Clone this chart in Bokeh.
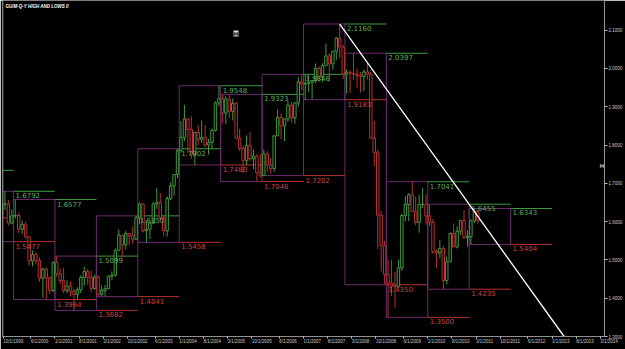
import numpy as np
from bokeh.plotting import figure
from bokeh.models import (ColumnDataSource, FixedTicker, Range1d, Label, Span,
                          NumeralTickFormatter)
from bokeh.embed import file_html
from bokeh.resources import INLINE
from bokeh.core.properties import value

# ---------------- data ----------------
months = [
    "1999-09", "1999-10", "1999-11", "1999-12",
    "2000-01", "2000-02", "2000-03", "2000-04", "2000-05", "2000-06", "2000-07", "2000-08", "2000-09", "2000-10", "2000-11", "2000-12",
    "2001-01", "2001-02", "2001-03", "2001-04", "2001-05", "2001-06", "2001-07", "2001-08", "2001-09", "2001-10", "2001-11", "2001-12",
    "2002-01", "2002-02", "2002-03", "2002-04", "2002-05", "2002-06", "2002-07", "2002-08", "2002-09", "2002-10", "2002-11", "2002-12",
    "2003-01", "2003-02", "2003-03", "2003-04", "2003-05", "2003-06", "2003-07", "2003-08", "2003-09", "2003-10", "2003-11", "2003-12",
    "2004-01", "2004-02", "2004-03", "2004-04", "2004-05", "2004-06", "2004-07", "2004-08", "2004-09", "2004-10", "2004-11", "2004-12",
    "2005-01", "2005-02", "2005-03", "2005-04", "2005-05", "2005-06", "2005-07", "2005-08", "2005-09", "2005-10", "2005-11", "2005-12",
    "2006-01", "2006-02", "2006-03", "2006-04", "2006-05", "2006-06", "2006-07", "2006-08", "2006-09", "2006-10", "2006-11", "2006-12",
    "2007-01", "2007-02", "2007-03", "2007-04", "2007-05", "2007-06", "2007-07", "2007-08", "2007-09", "2007-10", "2007-11", "2007-12",
    "2008-01", "2008-02", "2008-03", "2008-04", "2008-05", "2008-06", "2008-07", "2008-08", "2008-09", "2008-10", "2008-11", "2008-12",
    "2009-01", "2009-02", "2009-03", "2009-04", "2009-05", "2009-06", "2009-07", "2009-08", "2009-09", "2009-10", "2009-11", "2009-12",
    "2010-01", "2010-02", "2010-03", "2010-04", "2010-05", "2010-06", "2010-07", "2010-08", "2010-09", "2010-10", "2010-11", "2010-12",
    "2011-01", "2011-02", "2011-03",
]
opens = [
    1.6120, 1.6460, 1.6460, 1.5960,
    1.6150, 1.6160, 1.5800, 1.5930, 1.5600, 1.4970, 1.5140, 1.4980, 1.4520, 1.4760, 1.4540, 1.4200,
    1.4930, 1.4640, 1.4460, 1.4200, 1.4320, 1.4180, 1.4100, 1.4220, 1.4540, 1.4700, 1.4550, 1.4250,
    1.4550, 1.4100, 1.4200, 1.4250, 1.4570, 1.4600, 1.5250, 1.5650, 1.5390, 1.5690, 1.5630, 1.5540,
    1.6100, 1.6460, 1.5760, 1.5800, 1.5960, 1.6460, 1.6500, 1.6100, 1.5760, 1.6600, 1.6930, 1.7230,
    1.7860, 1.8200, 1.8680, 1.8410, 1.7750, 1.8330, 1.8150, 1.8200, 1.8000, 1.8070, 1.8380, 1.9100,
    1.9210, 1.8830, 1.9200, 1.8880, 1.9090, 1.8180, 1.7910, 1.7600, 1.7990, 1.7640, 1.7710, 1.7270,
    1.7200, 1.7770, 1.7480, 1.7380, 1.8240, 1.8720, 1.8500, 1.8680, 1.9040, 1.8710, 1.9100, 1.9650,
    1.9590, 1.9610, 1.9640, 1.9680, 2.0000, 1.9790, 2.0070, 2.0330, 2.0120, 2.0450, 2.0790, 2.0560,
    1.9850, 1.9900, 1.9870, 1.9850, 1.9810, 1.9790, 1.9910, 1.9850, 1.8180, 1.7810, 1.6170, 1.5370,
    1.4620, 1.4400, 1.4320, 1.4300, 1.4790, 1.6160, 1.6450, 1.6700, 1.6260, 1.5980, 1.6450, 1.6450,
    1.6150, 1.5980, 1.5220, 1.5180, 1.5300, 1.4460, 1.4950, 1.5690, 1.5340, 1.5750, 1.6030, 1.5580,
    1.5610, 1.6020, 1.6260,
]
highs = [
    1.6500, 1.6792, 1.6560, 1.6320,
    1.6577, 1.6230, 1.6030, 1.6000, 1.5620, 1.5250, 1.5200, 1.5070, 1.4800, 1.4800, 1.4560, 1.4960,
    1.5099, 1.4770, 1.4790, 1.4470, 1.4440, 1.4240, 1.4290, 1.4600, 1.4830, 1.4770, 1.4720, 1.4620,
    1.4590, 1.4330, 1.4350, 1.4600, 1.4700, 1.5300, 1.5800, 1.5650, 1.5750, 1.5690, 1.5870, 1.6150,
    1.6500, 1.6480, 1.6030, 1.6000, 1.6520, 1.6880, 1.6750, 1.6180, 1.6660, 1.7030, 1.7230, 1.7902,
    1.8620, 1.9050, 1.8700, 1.8750, 1.8350, 1.8520, 1.8640, 1.8520, 1.8160, 1.8430, 1.9140, 1.9548,
    1.9323, 1.9270, 1.9300, 1.9220, 1.9120, 1.8420, 1.7970, 1.8250, 1.8340, 1.7880, 1.7760, 1.7770,
    1.7880, 1.7850, 1.7660, 1.8260, 1.8930, 1.8830, 1.8700, 1.9150, 1.9130, 1.9120, 1.9780, 1.9846,
    1.9840, 1.9840, 1.9700, 2.0130, 2.0050, 2.0140, 2.0650, 2.0400, 2.0450, 2.0820, 2.1160, 2.0620,
    1.9980, 1.9950, 2.0397, 1.9990, 1.9910, 1.9980, 2.0160, 1.9920, 1.8630, 1.7870, 1.6280, 1.5500,
    1.5010, 1.5010, 1.4690, 1.5010, 1.6200, 1.6660, 1.6740, 1.7041, 1.6660, 1.6700, 1.6880, 1.6700,
    1.6455, 1.6070, 1.5280, 1.5520, 1.5370, 1.5090, 1.5720, 1.5950, 1.5880, 1.6040, 1.6300, 1.5770,
    1.6060, 1.6343, 1.6300,
]
lows = [
    1.5985, 1.6300, 1.5900, 1.5930,
    1.6080, 1.5700, 1.5680, 1.5560, 1.4850, 1.4830, 1.4880, 1.4430, 1.4010, 1.3964, 1.4110, 1.4160,
    1.4560, 1.4380, 1.4130, 1.4130, 1.4050, 1.3682, 1.3950, 1.4130, 1.4330, 1.4350, 1.4150, 1.4220,
    1.4041, 1.4060, 1.4060, 1.4240, 1.4470, 1.4560, 1.5250, 1.5060, 1.5270, 1.5380, 1.5420, 1.5530,
    1.5930, 1.5720, 1.5458, 1.5550, 1.5930, 1.6330, 1.6040, 1.5620, 1.5610, 1.6560, 1.6680, 1.7140,
    1.7800, 1.8100, 1.7800, 1.7640, 1.7480, 1.8000, 1.8060, 1.7940, 1.7750, 1.7900, 1.8350, 1.9010,
    1.8560, 1.8550, 1.8700, 1.8640, 1.8150, 1.7850, 1.7270, 1.7470, 1.7580, 1.7370, 1.7046, 1.7150,
    1.7202, 1.7300, 1.7250, 1.7300, 1.8230, 1.8150, 1.8100, 1.8600, 1.8590, 1.8550, 1.9000, 1.9430,
    1.9183, 1.9390, 1.9190, 1.9610, 1.9650, 1.9640, 2.0060, 1.9660, 1.9960, 2.0220, 2.0270, 1.9720,
    1.9340, 1.9360, 1.9700, 1.9500, 1.9370, 1.9410, 1.9710, 1.8170, 1.7450, 1.5280, 1.4700, 1.4350,
    1.3500, 1.4060, 1.3740, 1.4280, 1.4710, 1.6010, 1.6010, 1.6250, 1.5900, 1.5710, 1.6350, 1.5920,
    1.5870, 1.5150, 1.4780, 1.5040, 1.4235, 1.4360, 1.4940, 1.5330, 1.5300, 1.5650, 1.5550, 1.5350,
    1.5404, 1.5960, 1.5940,
]
closes = [
    1.6460, 1.6460, 1.5960, 1.6150,
    1.6160, 1.5800, 1.5930, 1.5600, 1.4970, 1.5140, 1.4980, 1.4520, 1.4760, 1.4540, 1.4200, 1.4930,
    1.4640, 1.4460, 1.4200, 1.4320, 1.4180, 1.4100, 1.4220, 1.4540, 1.4700, 1.4550, 1.4250, 1.4550,
    1.4100, 1.4200, 1.4250, 1.4570, 1.4600, 1.5250, 1.5650, 1.5390, 1.5690, 1.5630, 1.5540, 1.6100,
    1.6460, 1.5760, 1.5800, 1.5960, 1.6460, 1.6500, 1.6100, 1.5760, 1.6600, 1.6930, 1.7230, 1.7860,
    1.8200, 1.8680, 1.8410, 1.7750, 1.8330, 1.8150, 1.8200, 1.8000, 1.8070, 1.8380, 1.9100, 1.9210,
    1.8830, 1.9200, 1.8880, 1.9090, 1.8180, 1.7910, 1.7600, 1.7990, 1.7640, 1.7710, 1.7270, 1.7200,
    1.7770, 1.7480, 1.7380, 1.8240, 1.8720, 1.8500, 1.8680, 1.9040, 1.8710, 1.9100, 1.9650, 1.9590,
    1.9610, 1.9640, 1.9680, 2.0000, 1.9790, 2.0070, 2.0330, 2.0120, 2.0450, 2.0790, 2.0560, 1.9850,
    1.9900, 1.9870, 1.9850, 1.9810, 1.9790, 1.9910, 1.9850, 1.8180, 1.7810, 1.6170, 1.5370, 1.4620,
    1.4400, 1.4320, 1.4300, 1.4790, 1.6160, 1.6450, 1.6700, 1.6260, 1.5980, 1.6450, 1.6450, 1.6150,
    1.5980, 1.5220, 1.5180, 1.5300, 1.4460, 1.4950, 1.5690, 1.5340, 1.5750, 1.6030, 1.5580, 1.5610,
    1.6020, 1.6260, 1.6020,
]

years = [1998, 1999, 2000, 2001, 2002, 2003, 2004, 2005, 2006, 2007, 2008, 2009, 2010, 2011]
year_high = [1.7340, 1.6792, 1.6577, 1.5099, 1.6150, 1.7902, 1.9548, 1.9323, 1.9846, 2.1160, 2.0397, 1.7041, 1.6455, 1.6343]
year_low = [1.6100, 1.5477, 1.3964, 1.3682, 1.4041, 1.5458, 1.7480, 1.7046, 1.7202, 1.9183, 1.4350, 1.3500, 1.4235, 1.5404]

trend_months = ["2007-11", "2013-04"]
trend_prices = [2.1160, 1.3000]

x_tick_months = ["1999-10", "2000-06", "2001-01", "2001-08", "2002-03", "2002-10", "2003-06",
                 "2004-01", "2004-08", "2005-03", "2005-10", "2006-06", "2007-01", "2007-08",
                 "2008-03", "2008-10", "2009-06", "2010-01", "2010-08", "2011-03", "2011-10",
                 "2012-06", "2013-01", "2013-08", "2014-03"]
x_tick_labels = ["10/1/1999", "6/1/2000", "1/1/2001", "8/1/2001", "3/1/2002", "10/1/2002", "6/1/2003",
                 "1/1/2004", "8/1/2004", "3/1/2005", "10/1/2005", "6/1/2006", "1/1/2007", "8/1/2007",
                 "3/1/2008", "10/1/2008", "6/1/2009", "1/1/2010", "8/1/2010", "3/1/2011", "10/1/2011",
                 "6/1/2012", "1/1/2013", "8/1/2013", "3/1/2014"]
y_ticks = [1.3, 1.4, 1.5, 1.6, 1.7, 1.8, 1.9, 2.0, 2.1]

title_text = "GU/M-Q-Y HIGH AND LOWS 0"

# ---------------- helpers ----------------
def midx(s):
    yy, mm = s.split("-")
    return (int(yy) - 2000) * 12 + int(mm) - 1

GREEN = "#3f9a3f"
RED = "#b83232"
PURPLE = "#6c2c6c"
GREEN_TXT = "#5cae5c"
RED_TXT = "#cc4444"

X0, X1 = -3.2, 171.2
Y0, Y1 = 1.3, 2.1774

x = [midx(m) + 0.5 for m in months]
o = np.array(opens); c = np.array(closes)
cols = [GREEN if cc >= oo else RED for oo, cc in zip(opens, closes)]
candles = ColumnDataSource(dict(
    x=x, high=highs, low=lows, top=np.maximum(o, c), bottom=np.minimum(o, c), color=cols))

yrs = ColumnDataSource(dict(
    left=[(y - 2000) * 12 for y in years],
    right=[(y - 2000 + 1) * 12 for y in years],
    nxt_end=[(y - 2000 + 2) * 12 for y in years],
    high=year_high, low=year_low,
))
# labels only where the label start is inside the view
lab_idx = [i for i, y in enumerate(years) if (y - 2000 + 1) * 12 >= X0]
labs = ColumnDataSource(dict(
    x=[(years[i] - 2000 + 1) * 12 for i in lab_idx],
    high=[year_high[i] for i in lab_idx],
    low=[year_low[i] for i in lab_idx],
    hlab=["%.4f" % year_high[i] for i in lab_idx],
    llab=["%.4f" % year_low[i] for i in lab_idx],
))

p = figure(width=625, height=349, output_backend="svg", toolbar_location=None,
           x_range=Range1d(X0, X1), y_range=Range1d(Y0, Y1),
           y_axis_location="right", background_fill_color="black",
           border_fill_color="black", outline_line_color=None,
           min_border_left=2, min_border_right=18, min_border_top=0, min_border_bottom=9)
p.grid.visible = False

# year boxes
p.quad(left="left", right="right", top="high", bottom="low", source=yrs,
       fill_color=None, line_color=PURPLE, line_width=1)
# extensions into next year
p.segment(x0="right", x1="nxt_end", y0="high", y1="high", source=yrs, line_color=GREEN, line_width=1)
p.segment(x0="right", x1="nxt_end", y0="low", y1="low", source=yrs, line_color=RED, line_width=1)

# candles
p.segment(x0="x", x1="x", y0="low", y1="high", source=candles, line_color="color", line_width=1)
p.vbar(x="x", width=0.7, top="top", bottom="bottom", source=candles,
       fill_color="black", line_color="color", line_width=1)

# labels
p.text(x="x", y="high", text="hlab", source=labs, x_offset=2, y_offset=1,
       text_baseline="top", text_align="left", text_color=GREEN_TXT,
       text_font=value("DejaVu Sans"), text_font_size="7px")
p.text(x="x", y="low", text="llab", source=labs, x_offset=2, y_offset=1,
       text_baseline="top", text_align="left", text_color=RED_TXT,
       text_font=value("DejaVu Sans"), text_font_size="7px")

# trend line
p.line(x=[midx(m) + 0.5 for m in trend_months], y=trend_prices, line_color="white", line_width=1.3)

# left border
p.add_layout(Span(location=X0, dimension="height", line_color="#bbbbbb", line_width=1.5))

# axes
ya = p.yaxis[0]
ya.ticker = FixedTicker(ticks=y_ticks)
ya.formatter = NumeralTickFormatter(format="0.0000")
ya.axis_line_color = "#909090"
ya.major_tick_in = 0
ya.major_tick_out = 3
ya.major_tick_line_color = "#c0c0c0"
ya.minor_tick_line_color = None
ya.major_label_standoff = 1
ya.major_label_text_color = "#c8c8c8"
ya.major_label_text_font = "Liberation Sans"
ya.major_label_text_font_size = "4.5px"

xa = p.xaxis[0]
xa.ticker = FixedTicker(ticks=[midx(m) for m in x_tick_months])
xa.major_label_overrides = {midx(m): lab for m, lab in zip(x_tick_months, x_tick_labels)}
xa.axis_line_color = "#909090"
xa.major_tick_in = 0
xa.major_tick_out = 2
xa.major_tick_line_color = "#c0c0c0"
xa.minor_tick_line_color = None
xa.major_label_standoff = 3
xa.major_label_orientation = -0.0001
xa.major_label_text_color = "#c8c8c8"
xa.major_label_text_font = "Liberation Sans"
xa.major_label_text_font_size = "4.5px"

# title and small markers
p.add_layout(Label(x=X0, y=Y1, x_offset=3, y_offset=-3, text=title_text,
                   text_color="white", text_font="Liberation Sans", text_font_size="4.5px",
                   text_font_style="bold italic", text_baseline="top"))
p.add_layout(Label(x=231, y=300, x_units="screen", y_units="screen", text="M",
                   text_color="#222222", background_fill_color="#dddddd",
                   text_font="DejaVu Sans", text_font_size="5px", text_font_style="bold"))
p.add_layout(Label(x=X1, y=1.7465, x_offset=-5, text="M",
                   text_color="#b0b0b0", text_font="DejaVu Sans", text_font_size="5px",
                   text_font_style="bold", text_baseline="middle"))

open("out.html", "w").write(file_html(p, INLINE))
